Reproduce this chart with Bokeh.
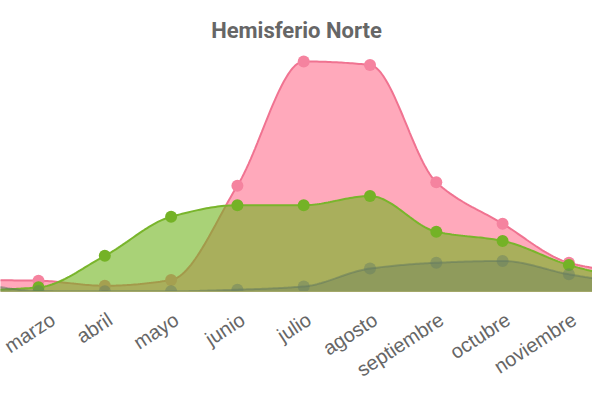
import numpy as np
from bokeh.plotting import figure
from bokeh.models import Range1d, FixedTicker
from bokeh.embed import file_html
from bokeh.resources import INLINE

months = ["enero", "febrero", "marzo", "abril", "mayo", "junio", "julio",
          "agosto", "septiembre", "octubre", "noviembre", "diciembre"]
x_idx = list(range(12))

# series values (arbitrary units)
pink = [6, 5, 4.7, 2.5, 5.0, 46, 100, 98.5, 47.5, 29.5, 12.5, 7.5]
green = [0.5, 0.6, 1.8, 15.5, 32.5, 37.5, 37.5, 41.5, 26, 22, 11.5, 4.5]
grey = [5, 3.5, 0.2, 0.1, 0.1, 0.8, 2.2, 10, 12.5, 13.3, 7.5, 3]

PX_PER_UNIT = 2.31


def smooth_path(xs, ys, n=30):
    """Monotone cubic rendering of a line through the given points."""
    xs = np.asarray(xs, float)
    ys = np.asarray(ys, float)
    h = np.diff(xs)
    d = np.diff(ys) / h
    m = np.zeros_like(ys)
    m[0], m[-1] = d[0], d[-1]
    for i in range(1, len(ys) - 1):
        if d[i - 1] * d[i] <= 0:
            m[i] = 0.0
        else:
            m[i] = 2.0 / (1.0 / d[i - 1] + 1.0 / d[i])
    px, py = [], []
    for i in range(len(xs) - 1):
        t = np.linspace(0, 1, n, endpoint=(i == len(xs) - 2))
        h00 = 2 * t**3 - 3 * t**2 + 1
        h10 = t**3 - 2 * t**2 + t
        h01 = -2 * t**3 + 3 * t**2
        h11 = t**3 - t**2
        px.extend(xs[i] + t * h[i])
        py.extend(h00 * ys[i] + h10 * h[i] * m[i] + h01 * ys[i + 1] + h11 * h[i] * m[i + 1])
    return np.array(px), np.clip(np.array(py), 0, None)


W, H = 592, 392
TOP = 52
BOTTOM = 100
frame_h = H - TOP - BOTTOM
spacing = 66.3
x_start = 2 - 38 / spacing

p = figure(width=W, height=H, output_backend="svg", toolbar_location=None,
           x_range=Range1d(x_start, x_start + W / spacing),
           y_range=Range1d(0, frame_h / PX_PER_UNIT),
           min_border_left=0, min_border_right=0,
           min_border_top=TOP, min_border_bottom=BOTTOM,
           title="Hemisferio Norte")
p.title.align = "center"
p.title.text_font = "Roboto"
p.title.text_font_size = "22px"
p.title.text_font_style = "bold"
p.title.text_color = "#666666"
p.title.offset = 8
p.title.standoff = 19

p.outline_line_color = None
p.background_fill_color = "white"
p.border_fill_color = "white"
p.xgrid.visible = False
p.ygrid.visible = False
p.yaxis.visible = False

series = [
    (pink, "rgba(255,99,132,0.55)", "#f07391", "#f5839f"),
    (green, "rgba(112,180,28,0.6)", "#79b52c", "#74b226"),
    (grey, "rgba(90,115,95,0.33)", "rgba(90,115,95,0.45)", "rgba(100,125,100,0.45)"),
]
for vals, fill, line, mark in series:
    sx, sy = smooth_path(x_idx, vals)
    p.varea(x=sx, y1=0, y2=sy, fill_color=fill)
    p.line(x=sx, y=sy, line_color=line, line_width=2)
    p.scatter(x=x_idx, y=vals, size=12, fill_color=mark, line_color=None)

label_pos = [i + 0.08 for i in x_idx]
ax = p.xaxis[0]
ax.ticker = FixedTicker(ticks=label_pos)
ax.major_label_overrides = {pos: m for pos, m in zip(label_pos, months)}
ax.major_label_orientation = np.deg2rad(33)
ax.major_label_text_font = "Liberation Sans"
ax.major_label_text_font_size = "20px"
ax.major_label_text_color = "#666666"
ax.major_label_standoff = 26
ax.major_tick_out = 0
ax.major_tick_in = 0
ax.axis_line_color = "#a3a86a"
ax.major_tick_line_color = None
ax.minor_tick_line_color = None

open("out.html", "w").write(file_html(p, INLINE))
